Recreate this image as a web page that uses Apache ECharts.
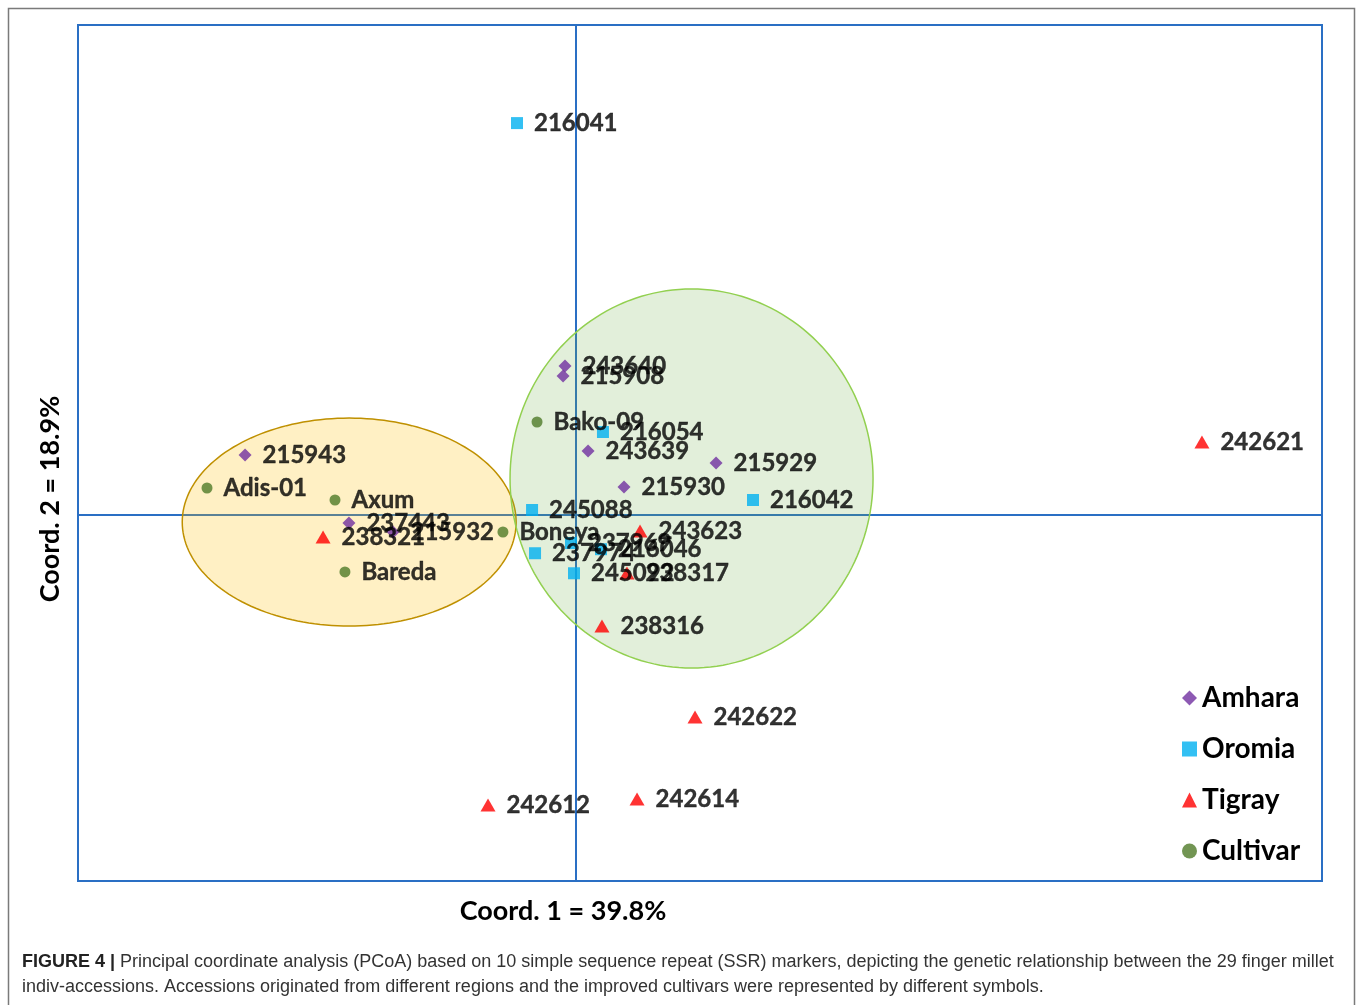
<!DOCTYPE html>
<html>
<head>
<meta charset="utf-8">
<script src="https://cdn.jsdelivr.net/npm/echarts@6/dist/echarts.min.js"></script>
<style>
html,body{margin:0;padding:0;background:#fff;}
#chart{width:1358px;height:1005px;}
</style>
</head>
<body>
<div id="chart"></div>
<script>
// ---- Data (PCoA coordinates) ----
const amharaNames = ['243640','215908','243639','215929','215930','215943','237443','215932'];
const amharaX = [-0.0085,-0.0101,0.0100,0.1129,0.0389,-0.2657,-0.1822,-0.1468];
const amharaY = [0.1735,0.1619,0.0743,0.0603,0.0322,0.0696,-0.0098,-0.0203];

const oromiaNames = ['216041','216054','216042','245088','237969','216046','237974','245092'];
const oromiaX = [-0.0471,0.0220,0.1426,-0.0350,-0.0037,0.0204,-0.0326,-0.0013];
const oromiaY = [0.4574,0.0965,0.0171,0.0054,-0.0332,-0.0404,-0.0451,-0.0685];

const tigrayNames = ['242621','243623','238317','238316','238321','242622','242612','242614'];
const tigrayX = [0.5035,0.0518,0.0413,0.0212,-0.2030,0.0960,-0.0704,0.0494];
const tigrayY = [0.0848,-0.0192,-0.0682,-0.1301,-0.0262,-0.2364,-0.3392,-0.3322];

const cultivarNames = ['Bako-09','Adis-01','Axum','Boneya','Bareda'];
const cultivarX = [-0.0310,-0.2963,-0.1934,-0.0584,-0.1854];
const cultivarY = [0.1082,0.0311,0.0171,-0.0203,-0.0670];

// Group ellipses (data units): [cluster left (orange), cluster right (green)]
const ellipseCenterX = [-0.182, 0.0932];
const ellipseCenterY = [-0.0087, 0.0422];
const ellipseRadiusX = [0.1342, 0.1459];
const ellipseRadiusY = [0.1215, 0.2214];

const groupNames = ['Amhara','Oromia','Tigray','Cultivar'];
const xTitle = 'Coord. 1 = 39.8%';
const yTitle = 'Coord. 2 = 18.9%';
const captionLine1 = 'Principal coordinate analysis (PCoA) based on 10 simple sequence repeat (SSR) markers, depicting the genetic relationship between the 29 finger millet';
const captionLine2 = 'indiv-accessions. Accessions originated from different regions and the improved cultivars were represented by different symbols.';

// ---- Chart ----
function pts(names, xs, ys){ return names.map((n,i)=>({name:n, value:[xs[i], ys[i]]})); }
const labelFont = {show:true, position:'right', distance:11, formatter:'{b}',
  fontFamily:'Lato', fontWeight:'bold', fontSize:24, color:'#000',
  textBorderColor:'#000', textBorderWidth:0.4};
const blue = '#2A6FC4';

function ellipseSeries(idx, fill, stroke){
  return {
    type:'custom', z:1, silent:true,
    data:[[ellipseCenterX[idx], ellipseCenterY[idx], ellipseRadiusX[idx], ellipseRadiusY[idx]]],
    encode:{x:0, y:1},
    renderItem:function(params, api){
      const cx=api.value(0), cy=api.value(1), rx=api.value(2), ry=api.value(3);
      const p=[];
      for(let i=0;i<180;i++){
        const t=2*Math.PI*i/180;
        p.push(api.coord([cx+rx*Math.cos(t), cy+ry*Math.sin(t)]));
      }
      return {type:'polygon', shape:{points:p}, style:{fill:fill, stroke:stroke, lineWidth:1.5}};
    }
  };
}

const chart = echarts.init(document.getElementById('chart'), null, {renderer:'canvas'});
chart.setOption({
  animation:false,
  backgroundColor:'#fff',
  grid:{left:78, top:25, right:36, bottom:124, show:true, borderColor:blue, borderWidth:2, backgroundColor:'transparent'},
  xAxis:{type:'value', min:-0.4, max:0.6, splitLine:{show:false}, axisTick:{show:false}, axisLabel:{show:false},
    axisLine:{show:true, onZero:true, lineStyle:{color:blue, width:2}}},
  yAxis:{type:'value', min:-0.428, max:0.572, splitLine:{show:false}, axisTick:{show:false}, axisLabel:{show:false},
    axisLine:{show:true, onZero:true, lineStyle:{color:blue, width:2}}},
  legend:{
    orient:'vertical', left:1177, top:679, itemWidth:15, itemHeight:15, itemGap:23,
    textStyle:{fontFamily:'Lato', fontWeight:'bold', fontSize:28, lineHeight:28, color:'#000'},
    data:[
      {name:groupNames[0], icon:'diamond'},
      {name:groupNames[1], icon:'rect'},
      {name:groupNames[2], icon:'triangle'},
      {name:groupNames[3], icon:'circle'}
    ]
  },
  graphic:[
    {type:'rect', silent:true, shape:{x:8.5, y:8.5, width:1346, height:1020},
      style:{fill:'none', stroke:'#7a7a7a', lineWidth:1.5}},
    {type:'text', silent:true, x:563, y:911,
      style:{text:xTitle, fontFamily:'Lato', fontWeight:'bold', fontSize:27, fill:'#000', align:'center', verticalAlign:'middle'}},
    {type:'text', silent:true, x:50, y:499, rotation:Math.PI/2,
      style:{text:yTitle, fontFamily:'Lato', fontWeight:'bold', fontSize:27, fill:'#000', align:'center', verticalAlign:'middle'}},
    {type:'text', silent:true, x:22, y:962,
      style:{text:'{b|FIGURE 4 |} '+captionLine1, verticalAlign:'middle',
        fontFamily:'Liberation Sans', fontSize:18, fill:'#333',
        rich:{b:{fontFamily:'Liberation Sans', fontWeight:'bold', fontSize:18, fill:'#222'}}}},
    {type:'text', silent:true, x:22, y:987,
      style:{text:captionLine2, verticalAlign:'middle', fontFamily:'Liberation Sans', fontSize:18, fill:'#333'}}
  ],
  series:[
    ellipseSeries(0, 'rgba(255,192,0,0.23)', '#BF9000'),
    ellipseSeries(1, 'rgba(112,173,71,0.2)', '#92D050'),
    {name:groupNames[0], type:'scatter', z:3, symbol:'diamond', symbolSize:13, itemStyle:{color:'#7030A0'},
      data:pts(amharaNames, amharaX, amharaY), label:labelFont},
    {name:groupNames[1], type:'scatter', z:3, symbol:'rect', symbolSize:12, itemStyle:{color:'#00B0F0'},
      data:pts(oromiaNames, oromiaX, oromiaY), label:labelFont},
    {name:groupNames[2], type:'scatter', z:3, symbol:'triangle', symbolSize:[15,13], itemStyle:{color:'#FF0000'},
      data:pts(tigrayNames, tigrayX, tigrayY), label:labelFont},
    {name:groupNames[3], type:'scatter', z:3, symbol:'circle', symbolSize:11, itemStyle:{color:'#4F7A28'},
      data:pts(cultivarNames, cultivarX, cultivarY), label:labelFont}
  ]
});
</script>
</body>
</html>
